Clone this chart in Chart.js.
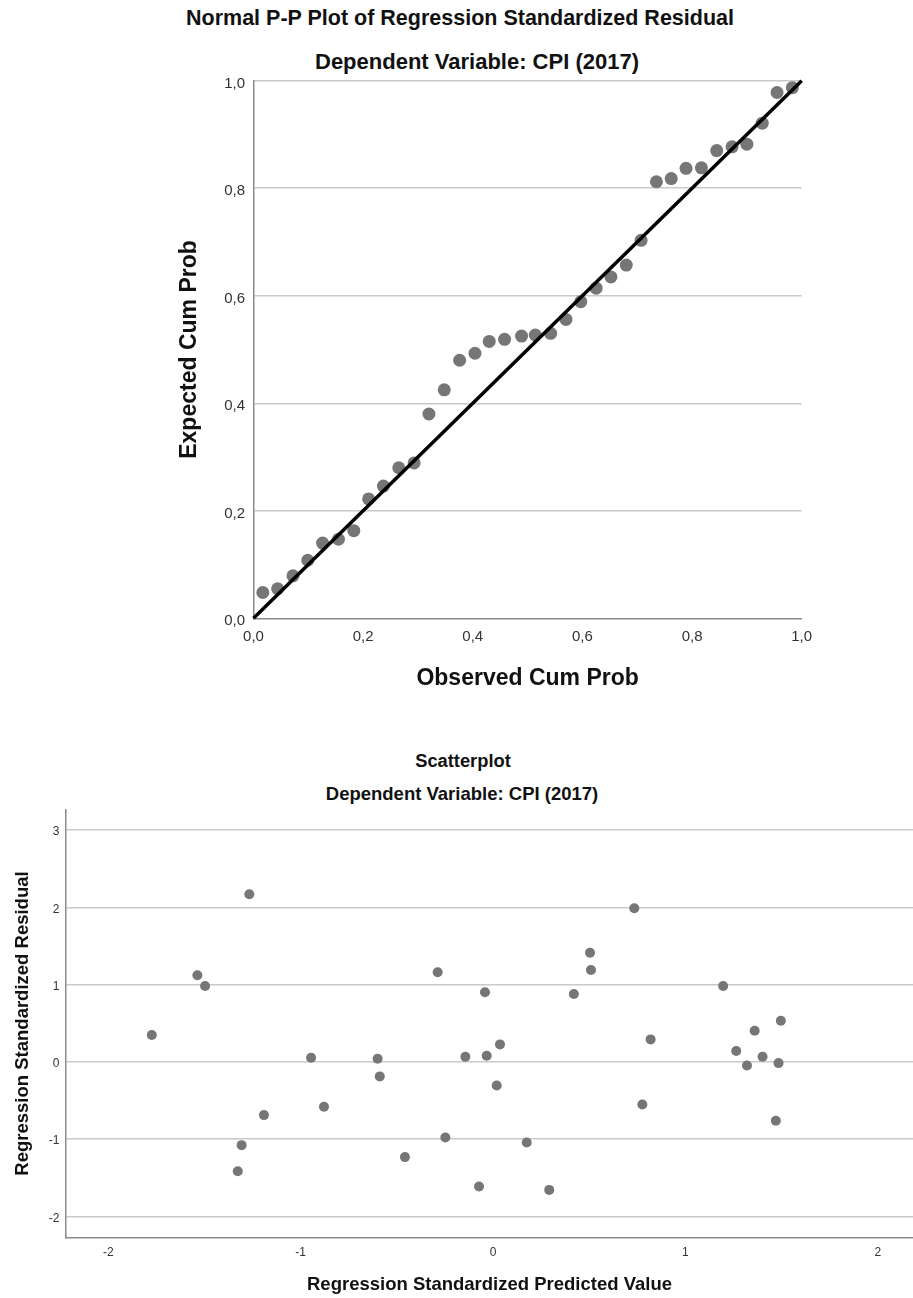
<!DOCTYPE html>
<html>
<head>
<meta charset="utf-8">
<title>Normal P-P Plot and Scatterplot - CPI (2017)</title>
<script src="https://cdn.jsdelivr.net/npm/chart.js@4.4.0/dist/chart.umd.min.js"></script>
<style>
  body { margin: 0; background: #fff; font-family: "Liberation Sans", Arial, sans-serif; }
  #page { position: relative; width: 913px; height: 1298px; }
  canvas { position: absolute; left: 0; }
  .ttl { position: absolute; font-weight: bold; white-space: nowrap; line-height: 1; transform: translateX(-50%); color: #111; }
</style>
</head>
<body>
<div id="page">
  <div class="ttl" style="left:460px; top:8px; font-size:21.5px">Normal P-P Plot of Regression Standardized Residual</div>
  <div class="ttl" style="left:477px; top:51px; font-size:22px">Dependent Variable: CPI (2017)</div>
  <canvas id="ppChart" width="913" height="700" style="top:0"></canvas>
  <div class="ttl" style="left:463px; top:752px; font-size:18.3px">Scatterplot</div>
  <div class="ttl" style="left:462px; top:785px; font-size:18.5px">Dependent Variable: CPI (2017)</div>
  <canvas id="residChart" width="913" height="598" style="top:700px"></canvas>
</div>
<script>
// P-P plot: observed vs expected cumulative probability
var ppObserved = [0.017, 0.044, 0.072, 0.099, 0.126, 0.155, 0.183, 0.210, 0.237, 0.265, 0.293, 0.320,
                  0.348, 0.376, 0.404, 0.430, 0.458, 0.489, 0.514, 0.542, 0.570, 0.597, 0.625, 0.652,
                  0.680, 0.707, 0.735, 0.762, 0.789, 0.817, 0.845, 0.873, 0.900, 0.928, 0.955, 0.983];
var ppExpected = [0.048, 0.055, 0.079, 0.108, 0.140, 0.147, 0.163, 0.222, 0.246, 0.280, 0.289, 0.380,
                  0.425, 0.480, 0.493, 0.515, 0.519, 0.525, 0.527, 0.530, 0.556, 0.589, 0.614, 0.635,
                  0.657, 0.703, 0.812, 0.818, 0.837, 0.838, 0.870, 0.877, 0.882, 0.921, 0.978, 0.987];
var refLineX = [0, 1];
var refLineY = [0, 1];

// Scatterplot: standardized predicted value vs standardized residual
var predicted = [-1.774, -1.537, -1.497, -1.327, -1.307, -1.267, -1.191, -0.946, -0.879, -0.600, -0.589, -0.458,
                 -0.288, -0.248, -0.144, -0.073, -0.042, -0.033, 0.019, 0.036, 0.175, 0.292, 0.420, 0.504,
                 0.509, 0.734, 0.776, 0.819, 1.196, 1.264, 1.320, 1.360, 1.401, 1.470, 1.484, 1.496];
var residual = [0.346, 1.119, 0.981, -1.416, -1.079, 2.168, -0.690, 0.052, -0.583, 0.039, -0.189, -1.234,
                1.158, -0.979, 0.065, -1.614, 0.899, 0.078, -0.306, 0.225, -1.044, -1.658, 0.877, 1.412,
                1.188, 1.987, -0.552, 0.290, 0.981, 0.139, -0.047, 0.402, 0.065, -0.764, -0.017, 0.531];

Chart.defaults.font.family = '"Liberation Sans", Arial, sans-serif';
Chart.defaults.color = '#333';

function toPoints(xs, ys) {
    return xs.map(function (x, i) { return { x: x, y: ys[i] }; });
}

var gridGray = '#c9c9c9';
var axisGray = '#8a8a8a';
var markGray = '#767676';

var ppChart = new Chart(document.getElementById("ppChart"), {
    type: 'scatter',
    data: {
        datasets: [{
            label: 'Reference',
            data: toPoints(refLineX, refLineY),
            showLine: true,
            borderColor: '#000',
            borderWidth: 3.5,
            pointRadius: 0,
            clip: false
        }, {
            label: 'Cases',
            data: toPoints(ppObserved, ppExpected),
            backgroundColor: markGray,
            borderWidth: 0,
            pointRadius: 6.5
        }]
    },
    options: {
        responsive: false,
        animation: false,
        layout: { autoPadding: false, padding: { left: 172.2, top: 80.7, right: 111.3, bottom: 3.9 } },
        plugins: { legend: { display: false }, tooltip: { enabled: false } },
        scales: {
            x: {
                type: 'linear', min: 0, max: 1,
                afterFit: function (s) { s.height = 77.8; },
                ticks: {
                    stepSize: 0.2, padding: 10, color: '#333', font: { size: 15 },
                    callback: function (v) { return v.toFixed(1).replace('.', ','); }
                },
                grid: { color: 'rgba(0,0,0,0)', drawTicks: false },
                border: { color: axisGray, width: 1.5 },
                title: { display: true, text: 'Observed Cum Prob', color: '#111', font: { size: 23, weight: 'bold' }, padding: { top: 4, bottom: 4 } }
            },
            y: {
                type: 'linear', min: 0, max: 1,
                afterFit: function (s) { s.width = 81.3; },
                ticks: {
                    stepSize: 0.2, padding: 8.5, labelOffset: 3, color: '#333', font: { size: 15 },
                    callback: function (v) { return v.toFixed(1).replace('.', ','); }
                },
                grid: {
                    drawTicks: false, lineWidth: 1.5,
                    color: function (c) { return c.tick && c.tick.value === 0 ? 'rgba(0,0,0,0)' : gridGray; }
                },
                border: { color: axisGray, width: 1.5 },
                title: { display: true, text: 'Expected Cum Prob', color: '#111', font: { size: 23, weight: 'bold' }, padding: { top: 4, bottom: 4 } }
            }
        }
    }
});

var residChart = new Chart(document.getElementById("residChart"), {
    type: 'scatter',
    data: {
        datasets: [{
            label: 'Cases',
            data: toPoints(predicted, residual),
            backgroundColor: markGray,
            borderWidth: 0,
            pointRadius: 5
        }]
    },
    options: {
        responsive: false,
        animation: false,
        layout: { autoPadding: false, padding: { left: 7.4, top: 109.3, right: 0, bottom: 0 } },
        plugins: { legend: { display: false }, tooltip: { enabled: false } },
        scales: {
            x: {
                type: 'linear', min: -2.22, max: 2.183,
                afterFit: function (s) { s.height = 60.3; },
                ticks: { stepSize: 1, includeBounds: false, padding: 8, color: '#333', font: { size: 12 } },
                grid: { color: 'rgba(0,0,0,0)', drawTicks: false },
                border: { color: axisGray, width: 1.5 },
                title: { display: true, text: 'Regression Standardized Predicted Value', color: '#111', font: { size: 18.5, weight: 'bold' }, padding: { top: 0, bottom: 2 } }
            },
            y: {
                type: 'linear', min: -2.277, max: 3.268,
                afterFit: function (s) { s.width = 58.6; },
                ticks: { stepSize: 1, includeBounds: false, padding: 6.7, labelOffset: 2, color: '#333', font: { size: 12 } },
                grid: { drawTicks: false, lineWidth: 1.5, color: gridGray },
                border: { color: axisGray, width: 1.5 },
                title: { display: true, text: 'Regression Standardized Residual', color: '#111', font: { size: 18.5, weight: 'bold' }, padding: { top: 4, bottom: 4 } }
            }
        }
    }
});
</script>
</body>
</html>
